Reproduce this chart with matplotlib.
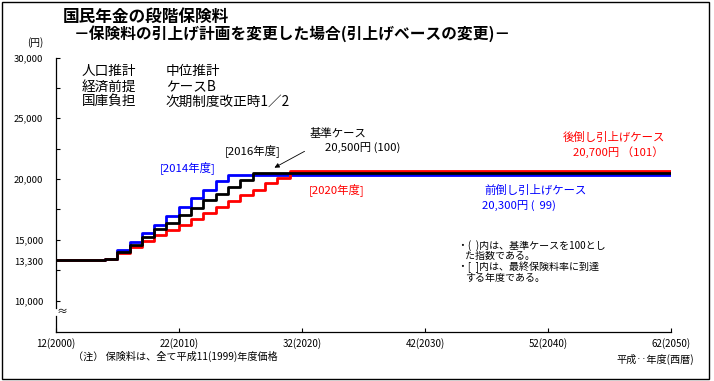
import matplotlib
matplotlib.use("Agg")
import matplotlib.pyplot as plt
from matplotlib.patches import Rectangle

plt.rcParams['font.family'] = ['Noto Sans CJK JP', 'DejaVu Sans']

# fiscal years (step changes until 2020, flat to 2050)
years = list(range(2000, 2021)) + [2050]

# premium per month (yen, 1999 prices)
front_loaded = [13300, 13300, 13300, 13300, 13400, 14150, 14850, 15550, 16250, 16950,
                17700, 18400, 19100, 19800, 20300, 20300, 20300, 20300, 20300, 20300,
                20300, 20300]
base_case = [13300, 13300, 13300, 13300, 13400, 14000, 14600, 15200, 15850, 16400,
             17050, 17650, 18250, 18800, 19350, 19950, 20500, 20500, 20500, 20500,
             20500, 20500]
back_loaded = [13300, 13300, 13300, 13300, 13400, 13880, 14380, 14900, 15400, 15800,
               16200, 16700, 17230, 17720, 18210, 18680, 19120, 19640, 20080, 20620,
               20700, 20700]

xticks = [2000, 2010, 2020, 2030, 2040, 2050]
xtick_labels = ["12(2000)", "22(2010)", "32(2020)", "42(2030)", "52(2040)", "62(2050)"]
yticks = [10000, 13300, 15000, 20000, 25000, 30000]
ytick_labels = ["10,000", "13,300", "15,000", "20,000", "25,000", "30,000"]
yminor = [12500, 17500, 22500, 27500]

W, H = 714, 381
fig = plt.figure(figsize=(W / 100, H / 100), dpi=100)


def fx(x):
    return x / W


def fy(y):
    return 1 - y / H


ax = fig.add_axes([fx(55.7), fy(331.5), (671 - 55.7) / W, (331.5 - 57.5) / H])

lw = 2.0
ax.step(years, front_loaded, where='post', color='#0000ff', lw=lw)
ax.step(years, back_loaded, where='post', color='#ff0000', lw=lw)
ax.step(years, base_case, where='post', color='black', lw=lw)

ax.set_xlim(2000, 2050)
ax.set_ylim(7450, 30000)
for s in ['top', 'right']:
    ax.spines[s].set_visible(False)
ax.spines['left'].set_bounds(9350, 30000)
ax.plot([2000, 2000], [7450, 8700], color='black', lw=0.9, clip_on=False)
ax.text(2000.1, 9050, "≈", ha='left', va='center', fontsize=8)
for s in ['left', 'bottom']:
    ax.spines[s].set_linewidth(0.9)

ax.set_xticks(xticks)
ax.set_xticklabels(xtick_labels, fontsize=7)
ax.set_yticks(yticks)
ax.set_yticklabels(ytick_labels, fontsize=6.8)
ax.set_yticks(yminor, minor=True)
ax.tick_params(axis='x', direction='in', length=3, width=0.8, pad=5)
ax.tick_params(axis='y', which='both', direction='in', length=3, width=0.8, pad=9)

# title
fig.text(fx(63), fy(17), "国民年金の段階保険料", fontsize=12, fontweight='bold', va='center')
fig.text(fx(74), fy(34), "－保険料の引上げ計画を変更した場合(引上げベースの変更)－",
         fontsize=11.3, fontweight='bold', va='center')
fig.text(fx(35), fy(43), "(円)", fontsize=7, ha='center', va='center')

# assumptions
for i, (a, b) in enumerate([("人口推計", "中位推計"), ("経済前提", "ケースB"),
                            ("国庫負担", "次期制度改正時1／2")]):
    fig.text(fx(82), fy(71 + 15.6 * i), a, fontsize=9.8, va='center')
    fig.text(fx(166), fy(71 + 15.6 * i), b, fontsize=9.8, va='center')

fs = 8.2
fig.text(fx(160), fy(168), "[2014年度]", color='#0000ff', fontsize=fs, va='center')
fig.text(fx(225), fy(151), "[2016年度]", color='black', fontsize=fs, va='center')
fig.text(fx(309), fy(190), "[2020年度]", color='#ff0000', fontsize=fs, va='center')
fig.text(fx(310), fy(134), "基準ケース", color='black', fontsize=fs, va='center')
fig.text(fx(325), fy(148), "20,500円 (100)", color='black', fontsize=fs, va='center')
fig.text(fx(563), fy(137), "後倒し引上げケース", color='#ff0000', fontsize=fs, va='center')
fig.text(fx(573), fy(152), "20,700円 （101）", color='#ff0000', fontsize=fs, va='center')
fig.text(fx(484), fy(190), "前倒し引上げケース", color='#0000ff', fontsize=fs, va='center')
fig.text(fx(482), fy(206), "20,300円 (  99)", color='#0000ff', fontsize=fs, va='center')

fig.add_artist(matplotlib.patches.FancyArrowPatch(
    (fx(307), fy(150)), (fx(272), fy(169)), transform=fig.transFigure,
    arrowstyle='-|>', mutation_scale=7, lw=0.6, color='black'))

# notes
fn = 7.2
fig.text(fx(458), fy(246), "・(  )内は、基準ケースを100とし", fontsize=fn, va='center')
fig.text(fx(465), fy(256), "た指数である。", fontsize=fn, va='center')
fig.text(fx(458), fy(267), "・[  ]内は、最終保険料率に到達", fontsize=fn, va='center')
fig.text(fx(465), fy(278), "する年度である。", fontsize=fn, va='center')

fig.text(fx(73), fy(356), "（注） 保険料は、全て平成11(1999)年度価格", fontsize=7.3, va='center')
fig.text(fx(694), fy(359), "平成‥年度(西暦)", fontsize=7.3, va='center', ha='right')

# outer frame
fig.add_artist(Rectangle((fx(1.5), fy(378.5)), (709 - 1.5) / W, (378.5 - 1.5) / H,
                         transform=fig.transFigure, fill=False, lw=1, color='black'))

fig.savefig("out.png", dpi=100)
